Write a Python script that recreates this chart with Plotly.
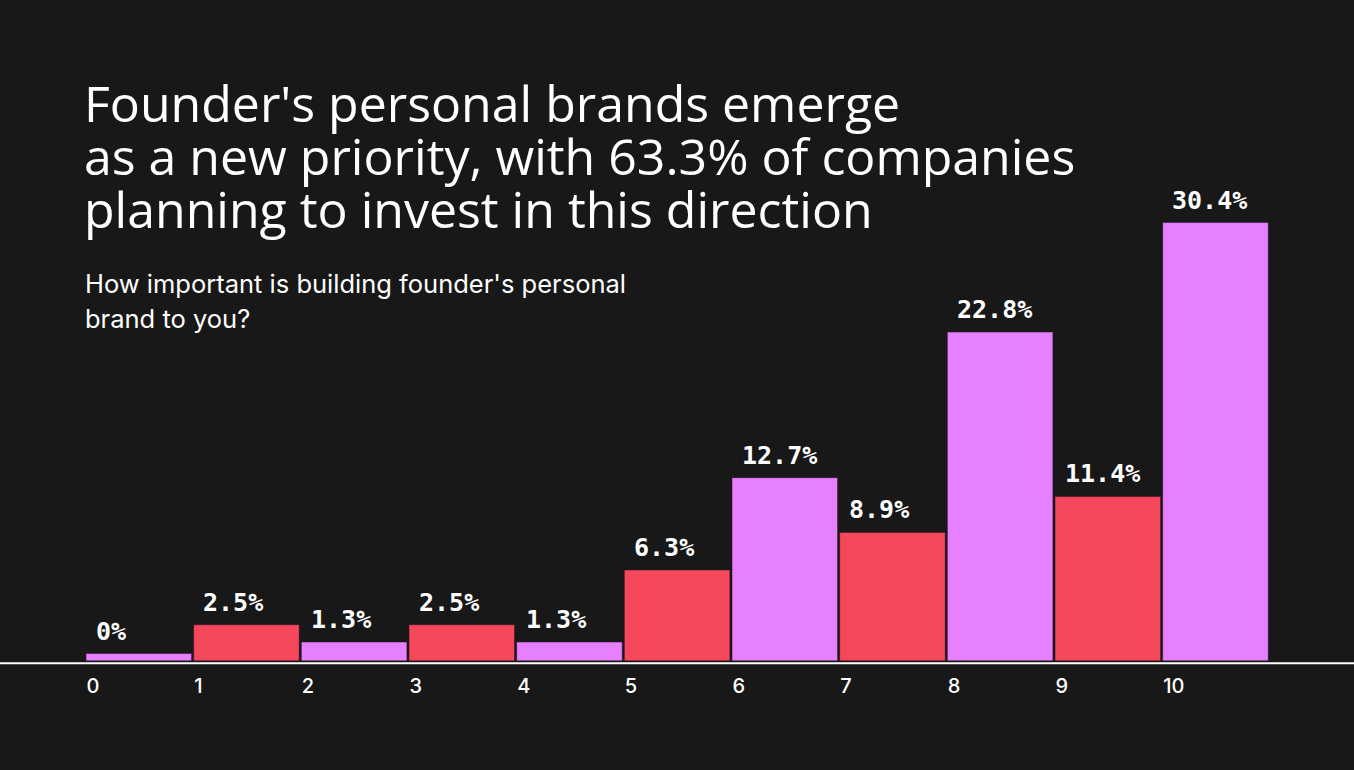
import plotly.graph_objects as go

categories = [0, 1, 2, 3, 4, 5, 6, 7, 8, 9, 10]
values = [0, 2.5, 1.3, 2.5, 1.3, 6.3, 12.7, 8.9, 22.8, 11.4, 30.4]
labels = ["0%", "2.5%", "1.3%", "2.5%", "1.3%", "6.3%", "12.7%", "8.9%", "22.8%", "11.4%", "30.4%"]
tick_labels = ["0", "1", "2", "3", "4", "5", "6", "7", "8", "9", "10"]
title_lines = [
    "Founder's personal brands emerge",
    "as a new priority, with 63.3% of companies",
    "planning to invest in this direction",
]
subtitle_lines = ["How important is building founder's personal", "brand to you?"]

PURPLE = "#E680FF"
RED = "#F5495B"
BG = "#181818"
colors = [PURPLE if i % 2 == 0 else RED for i in range(len(categories))]
MIN_VISIBLE = 0.5
heights = [max(v, MIN_VISIBLE) for v in values]

W, H = 1354, 770
PX_PER_UNIT = 107.67
X0_PX = 86
PX_PER_PCT = 14.42
BASE_PX = 661
Y_LOW = -0.5
plot_h = BASE_PX + (-Y_LOW) * PX_PER_PCT
b_margin = H - plot_h

fig = go.Figure()
fig.add_trace(go.Bar(
    x=[c + 0.49 for c in categories],
    y=heights,
    width=0.98,
    marker=dict(color=colors, line=dict(color="rgba(40,10,40,0.45)", width=1)),
    hoverinfo="skip",
))

annotations = []
for c, h, lab in zip(categories, heights, labels):
    annotations.append(dict(
        x=c + 0.07, y=h, xref="x", yref="y", text=lab, showarrow=False,
        xanchor="left", yanchor="bottom", yshift=6,
        font=dict(family="DejaVu Sans Mono", size=25, color="#FFFFFF", weight="bold"),
    ))

def py(px):
    return 1 - px / plot_h

title_base = [120, 173, 226]
for line, bpx in zip(title_lines, title_base):
    annotations.append(dict(
        x=0, xref="paper", y=py(bpx - 17), yref="paper",
        text=line, showarrow=False, xanchor="left", yanchor="middle", xshift=82,
        font=dict(family="Open Sans", size=50, color="#FFFFFF"),
    ))
sub_base = [292, 327]
for line, bpx in zip(subtitle_lines, sub_base):
    annotations.append(dict(
        x=0, xref="paper", y=py(bpx - 8), yref="paper",
        text=line, showarrow=False, xanchor="left", yanchor="middle", xshift=83,
        font=dict(family="Inter", size=25.5, color="#FFFFFF"),
    ))

x_lo = -X0_PX / PX_PER_UNIT
x_hi = (W - X0_PX) / PX_PER_UNIT

fig.add_shape(type="line", xref="paper", yref="y", x0=0, x1=1, y0=-0.17, y1=-0.17,
              line=dict(color="#FFFFFF", width=2))

fig.update_layout(
    width=W, height=H,
    paper_bgcolor=BG, plot_bgcolor=BG,
    margin=dict(l=0, r=0, t=0, b=b_margin),
    showlegend=False,
    annotations=annotations,
    xaxis=dict(
        range=[x_lo, x_hi], tickmode="array", tickvals=categories, ticktext=tick_labels,
        ticklabelposition="outside right", showgrid=False, zeroline=False, showline=False,
        ticks="outside", ticklen=11, tickcolor=BG,
        tickfont=dict(family="Inter", size=20, color="#FFFFFF", weight=500),
    ),
    yaxis=dict(range=[Y_LOW, BASE_PX / PX_PER_PCT], visible=False),
)

fig.write_html(
    "out.html",
    config={"responsive": False, "displayModeBar": False},
    post_script="document.body.style.margin='0';document.body.style.background='#181818';",
)
